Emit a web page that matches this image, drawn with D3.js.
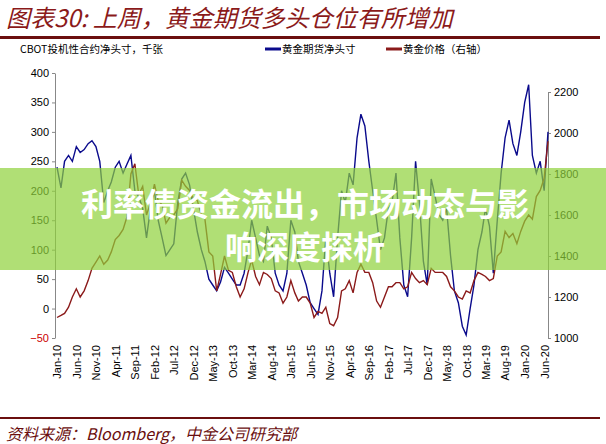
<!DOCTYPE html><html><head><meta charset="utf-8"><script src="https://cdn.jsdelivr.net/npm/d3@7"></script>
<style>body{margin:0;background:#fff}svg{display:block}</style></head><body><svg id="c" width="606" height="444"></svg>
<script>
// monthly values from Jan 2010
const netPos=[240,205,250,260,250,275,265,270,280,285,275,250,
180,200,215,240,250,230,245,260,200,190,170,120,
170,200,150,120,90,100,110,180,220,230,210,170,
130,100,80,50,40,30,45,70,60,50,40,40,
60,100,150,120,90,80,140,120,60,40,30,60,
150,130,80,60,40,10,0,-10,30,120,60,20,
120,200,180,230,210,290,330,310,250,200,150,100,
120,170,180,230,120,40,20,120,250,180,80,40,
220,190,160,150,170,90,30,10,-30,-45,0,40,
100,130,170,140,60,150,230,290,320,280,260,300,
350,380,260,230,250,200,300];
const goldPrice=[1100,1110,1120,1150,1200,1240,1200,1230,1280,1340,1370,1400,
1360,1380,1420,1480,1500,1530,1590,1800,1850,1700,1740,1600,
1660,1750,1670,1650,1560,1590,1600,1630,1770,1740,1720,1680,
1670,1600,1580,1420,1400,1230,1310,1400,1330,1320,1250,1200,
1240,1320,1380,1300,1260,1320,1310,1290,1230,1220,1170,1200,
1280,1220,1180,1200,1200,1170,1100,1130,1120,1150,1070,1060,
1100,1230,1240,1280,1220,1320,1360,1320,1320,1270,1180,1150,
1200,1250,1250,1270,1270,1240,1250,1320,1290,1270,1280,1260,
1340,1320,1320,1320,1300,1250,1230,1200,1190,1230,1220,1280,
1320,1310,1300,1280,1290,1400,1420,1520,1490,1510,1460,1520,
1570,1600,1580,1690,1720,1780,1960];
const xTickLabels=["Jan-10","Jun-10","Nov-10","Apr-11","Sep-11","Feb-12","Jul-12","Dec-12","May-13","Oct-13","Mar-14","Aug-14","Jan-15","Jun-15","Nov-15","Apr-16","Sep-16","Feb-17","Jul-17","Dec-17","May-18","Oct-18","Mar-19","Aug-19","Jan-20","Jun-20"];
const leftTicks=[-50,0,50,100,150,200,250,300,350,400];
const rightTicks=[1000,1200,1400,1600,1800,2000,2200];

const svg=d3.select("#c");
const dates=netPos.map((d,i)=>new Date(2010,i,1));
const x=d3.scaleTime().domain([new Date(2010,0,1),new Date(2020,6,1)]).range([57,548]);
const yL=d3.scaleLinear().domain([-50,400]).range([338,73]);
const yR=d3.scaleLinear().domain([1000,2200]).range([338,92]);
const F="Liberation Sans, Arial, sans-serif";
const CJK="Noto Sans CJK SC";

svg.append("text").attr("x",6).attr("y",27).attr("font-family",CJK).attr("font-style","italic").attr("font-size",24).attr("fill","#8b1a1a").text("图表30: 上周，黄金期货多头仓位有所增加");
svg.append("rect").attr("x",0).attr("y",36).attr("width",600).attr("height",3).attr("fill","#6b0f0f");
svg.append("text").attr("x",20).attr("y",53).attr("font-family",CJK).attr("font-size",10.5).text("CBOT投机性合约净头寸，千张");
svg.append("line").attr("x1",265).attr("x2",281).attr("y1",49).attr("y2",49).attr("stroke","#0a0a8c").attr("stroke-width",3);
svg.append("text").attr("x",282).attr("y",53).attr("font-family",CJK).attr("font-size",10.5).text("黄金期货净头寸");
svg.append("line").attr("x1",386).attr("x2",402).attr("y1",49).attr("y2",49).attr("stroke","#8b1a1a").attr("stroke-width",3);
svg.append("text").attr("x",403).attr("y",53).attr("font-family",CJK).attr("font-size",10.5).text("黄金价格（右轴）");

const gL=svg.append("g").attr("transform","translate(55,0)").call(d3.axisLeft(yL).tickValues(leftTicks).tickSize(3).tickSizeOuter(0));
gL.selectAll("text").attr("font-family",F).attr("font-size",11).attr("fill",d=>d<0?"#c00":"#000");
const gR=svg.append("g").attr("transform","translate(548,0)").call(d3.axisRight(yR).tickValues(rightTicks).tickFormat(d3.format("d")).tickSize(3).tickSizeOuter(0));
gR.selectAll("text").attr("font-family",F).attr("font-size",11).attr("fill","#000");
svg.selectAll(".domain,.tick line").attr("stroke","#888");
const xt=xTickLabels.map((l,i)=>new Date(2010,i*5,1));
const gX=svg.append("g").attr("transform","translate(0,345)").call(d3.axisBottom(x).tickValues(xt).tickSize(0).tickFormat((d,i)=>xTickLabels[i]));
gX.select(".domain").remove();
gX.selectAll("text").attr("font-family",F).attr("font-size",11).attr("fill","#000").attr("text-anchor","end").attr("transform","rotate(-90)").attr("dx",0).attr("dy","0.35em").attr("x",0).attr("y",0);

svg.append("path").datum(netPos).attr("fill","none").attr("stroke","#0a0a8c").attr("stroke-width",1.4)
 .attr("d",d3.line().x((d,i)=>x(dates[i])).y(d=>yL(d)));
svg.append("path").datum(goldPrice).attr("fill","none").attr("stroke","#8b1a1a").attr("stroke-width",1.4)
 .attr("d",d3.line().x((d,i)=>x(dates[i])).y(d=>yR(d)));

svg.append("rect").attr("x",0).attr("y",168).attr("width",606).attr("height",102).attr("fill","#8fd13a").attr("opacity",0.7);
svg.append("text").attr("x",305).attr("y",216).attr("text-anchor","middle").attr("font-family",CJK).attr("font-weight","bold").attr("font-size",32).attr("fill","#fff").text("利率债资金流出，市场动态与影");
svg.append("text").attr("x",305).attr("y",259).attr("text-anchor","middle").attr("font-family",CJK).attr("font-weight","bold").attr("font-size",32).attr("fill","#fff").text("响深度探析");

svg.append("rect").attr("x",0).attr("y",417).attr("width",600).attr("height",2).attr("fill","#6b0f0f");
svg.append("text").attr("x",6).attr("y",440).attr("font-family",CJK).attr("font-style","italic").attr("font-size",16).attr("fill","#6b0f0f").text("资料来源：Bloomberg，中金公司研究部");
</script></body></html>
